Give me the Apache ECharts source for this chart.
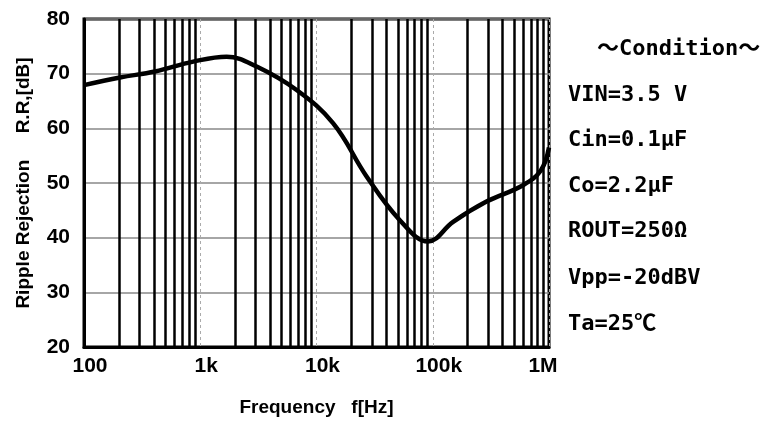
<!DOCTYPE html>
<html>
<head>
<meta charset="utf-8">
<script src="https://cdn.jsdelivr.net/npm/echarts@6/dist/echarts.min.js"></script>
<style>
html,body{margin:0;padding:0;background:#fff;}
#c{width:773px;height:428px;}
</style>
</head>
<body>
<div id="c"></div>
<script>
// ---- data ----
var freqs = [100, 204, 408, 871, 1686, 3055, 6745, 13930, 26970, 52100, 91200, 149700, 290000, 598000, 850000, 1000000];
var rippleRejection = [67.9, 69.3, 70.4, 72.2, 73.1, 71.3, 67.0, 60.9, 51.2, 43.2, 39.3, 42.9, 46.6, 49.6, 52.3, 56.5];
var xTickValues = [100, 1000, 10000, 100000, 1000000];
var xTickLabels = ['100', '1k', '10k', '100k', '1M'];
var yTickValues = [20, 30, 40, 50, 60, 70, 80];
var decades = [100, 1000, 10000, 100000];
var multipliers = [2, 3, 4, 5, 6, 7, 8, 9];
var conditions = ['～Condition～', 'VIN=3.5 V', 'Cin=0.1μF', 'Co=2.2μF', 'ROUT=250Ω', 'Vpp=-20dBV', 'Ta=25℃'];

var minorFreqs = [];
decades.forEach(function (d) { multipliers.forEach(function (m) { minorFreqs.push(d * m); }); });

var curve = freqs.map(function (f, i) { return [f, rippleRejection[i]]; });

var labelFont = 'Liberation Sans, Arial, sans-serif';
var monoFont = 'DejaVu Sans Mono, Noto Sans CJK JP, monospace';

var condY = [52, 98, 143, 189, 234, 281, 327];
var graphics = conditions.map(function (t, i) {
  return {
    type: 'text',
    left: i === 0 ? 597 : 568,
    top: condY[i] - 14,
    style: {
      text: t,
      font: 'bold 22px ' + monoFont,
      fill: '#000'
    }
  };
});

var chart = echarts.init(document.getElementById('c'), null, {renderer: 'canvas'});
chart.setOption({
  animation: false,
  backgroundColor: '#fff',
  grid: {
    left: 84, right: 224, top: 19, bottom: 81,
    show: true, borderColor: '#000', borderWidth: 3, backgroundColor: 'transparent'
  },
  xAxis: {
    type: 'log', logBase: 10, min: 100, max: 1000000,
    name: 'Frequency   f[Hz]',
    nameLocation: 'middle', nameGap: 51,
    nameTextStyle: {fontFamily: labelFont, fontWeight: 'bold', fontSize: 19, color: '#000'},
    axisLine: {show: true, lineStyle: {color: '#000', width: 3}},
    axisTick: {show: false},
    splitLine: {show: true, lineStyle: {color: '#aaa', width: 1, type: [3, 3]}},
    axisLabel: {
      show: true, margin: 9, showMinLabel: true, showMaxLabel: true,
      fontFamily: labelFont, fontWeight: 'bold', fontSize: 20, color: '#000',
      formatter: function (v) {
        var idx = xTickValues.indexOf(Math.round(v));
        if (idx < 0) return '';
        if (idx === xTickLabels.length - 1) return '{m|' + xTickLabels[idx] + '}';
        return '{a|' + xTickLabels[idx] + '}';
      },
      rich: {
        a: {fontFamily: labelFont, fontWeight: 'bold', fontSize: 21, color: '#000', padding: [0, 0, 0, 12]},
        m: {fontFamily: labelFont, fontWeight: 'bold', fontSize: 21, color: '#000', padding: [0, 12, 0, 0]}
      }
    }
  },
  yAxis: {
    type: 'value', min: 20, max: 80, interval: 10,
    name: 'Ripple Rejection     R.R,[dB]',
    nameLocation: 'middle', nameGap: 51, nameRotate: 90,
    nameTextStyle: {fontFamily: labelFont, fontWeight: 'bold', fontSize: 19, color: '#000'},
    axisLine: {show: true, lineStyle: {color: '#000', width: 3}},
    axisTick: {show: false},
    splitLine: {show: true, lineStyle: {color: '#888', width: 1.5}},
    axisLabel: {
      margin: 14, fontFamily: labelFont, fontWeight: 'bold', fontSize: 21, color: '#000',
      formatter: function (v) { return yTickValues.indexOf(v) >= 0 ? String(v) : ''; }
    }
  },
  graphic: graphics,
  series: [
    {
      type: 'line', data: [], z: 1, silent: true,
      markLine: {
        silent: true, symbol: ['none', 'none'],
        label: {show: false},
        lineStyle: {color: '#000', width: 2.5, type: 'solid'},
        emphasis: {disabled: true},
        data: minorFreqs.map(function (v) { return {xAxis: v}; })
      }
    },
    {
      type: 'line', data: curve, z: 5,
      smooth: 0.4,
      symbol: 'none',
      lineStyle: {color: '#000', width: 4.5}
    }
  ]
});
</script>
</body>
</html>
